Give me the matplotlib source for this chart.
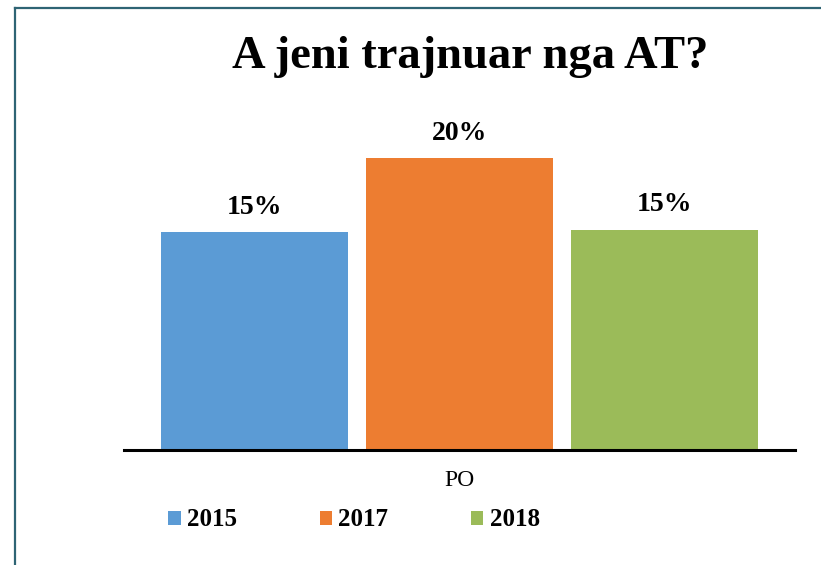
import matplotlib.pyplot as plt
from matplotlib.lines import Line2D
from matplotlib.patches import Patch

years = ['2015', '2017', '2018']
values = [0.149, 0.20, 0.151]
labels = ['15%', '20%', '15%']
colors = ['#5B9BD5', '#ED7D31', '#9BBB59']
category = 'PO'

plt.rcParams['font.family'] = ['Liberation Serif', 'DejaVu Serif']

fig = plt.figure(figsize=(8.21, 5.65), dpi=100)
ax = fig.add_axes([124 / 821, 1 - 450 / 565, 671 / 821, 320 / 565])

pos = list(range(len(years)))
bars = ax.bar(pos, values, width=0.912, color=colors)
for b, lab in zip(bars, labels):
    ax.annotate(lab, (b.get_x() + b.get_width() / 2, b.get_height()),
                xytext=(0, 9), textcoords='offset points',
                ha='center', va='bottom', fontsize=20, fontweight='bold')

ax.set_xlim(-0.637, 2.639)
ax.set_ylim(0, 0.2192)
for s in ['top', 'right', 'left']:
    ax.spines[s].set_visible(False)
ax.spines['bottom'].set_linewidth(2.2)
ax.spines['bottom'].set_color('black')
ax.set_xticks([])
ax.set_yticks([])

fig.text(459 / 821, 1 - 481 / 565, category, ha='center', va='center', fontsize=17)
fig.text(470 / 821, 1 - 57 / 565, 'A jeni trajnuar nga AT?', ha='center', va='center',
         fontsize=33.5, fontweight='bold')

handles = [Patch(facecolor=c, label=y) for c, y in zip(colors, years)]
fig.legend(handles=handles, loc='center', bbox_to_anchor=(354 / 821, 1 - 520 / 565),
           ncol=3, frameon=False, prop={'size': 18, 'weight': 'bold'},
           handlelength=0.5, handleheight=0.5, handletextpad=0.25, columnspacing=3.3)

# frame line at top and left
fig.add_artist(Line2D([15 / 821, 15 / 821], [0, 1 - 8 / 565], transform=fig.transFigure,
                      color='#2E6474', lw=1.6))
fig.add_artist(Line2D([15 / 821, 1], [1 - 8 / 565, 1 - 8 / 565], transform=fig.transFigure,
                      color='#2E6474', lw=1.6))

fig.savefig('out.png', dpi=100)
